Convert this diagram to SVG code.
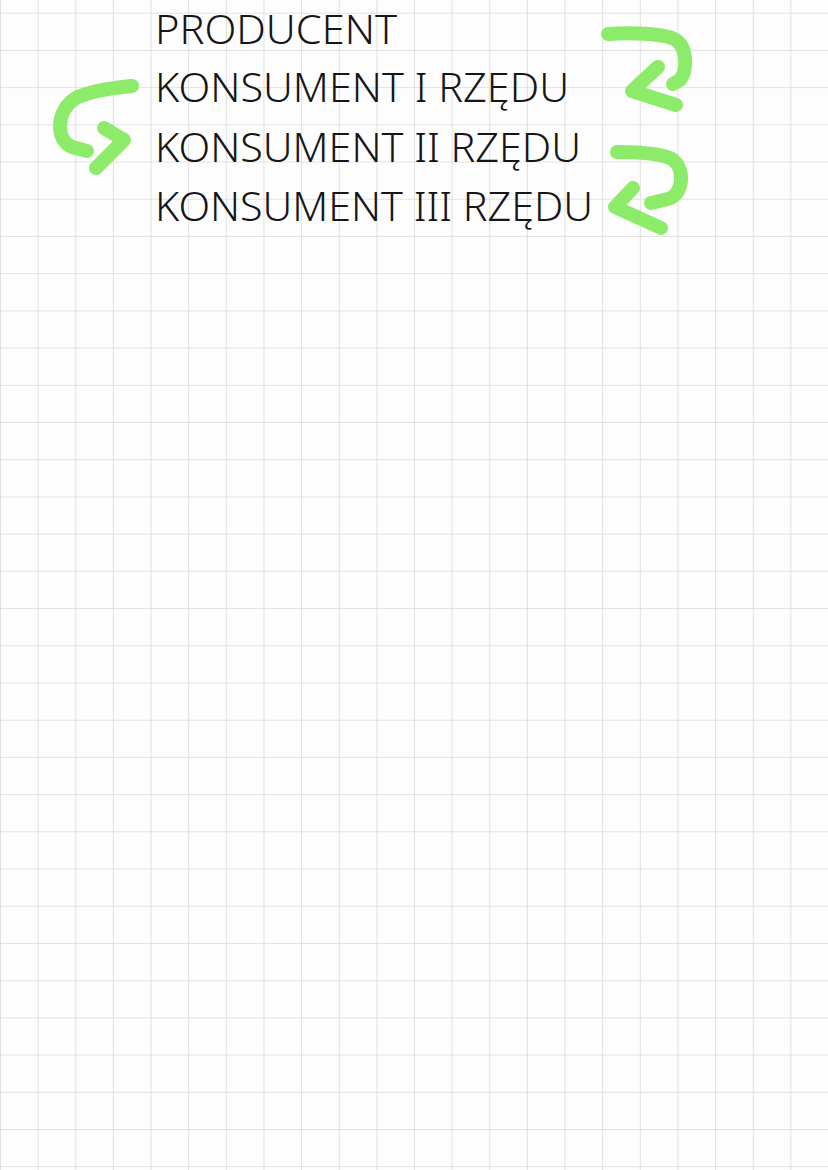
<svg xmlns="http://www.w3.org/2000/svg" width="828" height="1170" viewBox="0 0 828 1170">
<defs>
<pattern id="grid" x="0" y="12.7" width="37.636" height="37.21" patternUnits="userSpaceOnUse">
<path d="M0 0 H37.636 M0 0 V37.21" fill="none" stroke="#d9d9d9" stroke-width="1.6"/>
</pattern>
<style>
.t{font-family:"Noto Sans","DejaVu Sans",sans-serif;font-weight:300;font-size:41px;fill:#161616;}
.a{fill:none;stroke:#8ceb68;stroke-width:14;stroke-linecap:round;stroke-linejoin:round;}
</style>
</defs>
<rect width="828" height="1170" fill="#fdfdfd"/>
<rect width="828" height="1170" fill="url(#grid)"/>
<g id="producent"><text class="t" x="155" y="43.5" textLength="242" lengthAdjust="spacingAndGlyphs">PRODUCENT</text></g>
<g id="konsument1"><text class="t" x="155" y="102" textLength="414" lengthAdjust="spacingAndGlyphs">KONSUMENT I RZĘDU</text></g>
<g id="konsument2"><text class="t" x="155" y="162" textLength="426" lengthAdjust="spacingAndGlyphs">KONSUMENT II RZĘDU</text></g>
<g id="konsument3"><text class="t" x="155" y="220.5" textLength="438" lengthAdjust="spacingAndGlyphs">KONSUMENT III RZĘDU</text></g>
<g id="connectors">
<path class="a" d="M608 34 C635 32 660 34 672 38 C688 44 688 70 680 80 L673 84"/>
<path class="a" d="M658 67 L632 91 L676 105"/>
<path class="a" d="M617 152 C640 152 660 154 670 158 C686 166 684 195 668 199 L651 203"/>
<path class="a" d="M633 188 L615 207 L661 228"/>
<path class="a" d="M132 86 C110 88 88 92 76 98 C56 110 55 140 72 147 L87 151"/>
<path class="a" d="M104 128 L124 140 L96 168"/>
</g>
</svg>
